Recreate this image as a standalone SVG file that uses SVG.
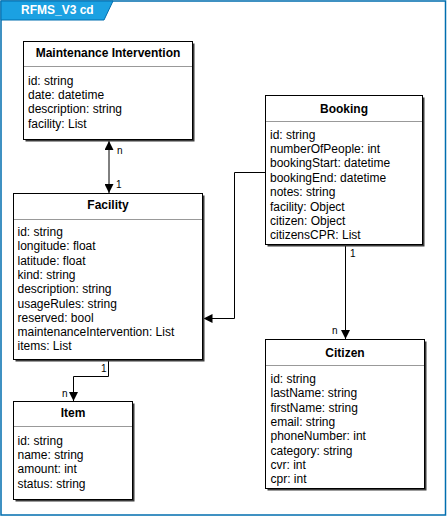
<svg xmlns="http://www.w3.org/2000/svg" width="447" height="517" viewBox="0 0 447 517">
<style>
.box{fill:#fff;stroke:#000;stroke-width:1}
.shadow{fill:#3a3a3a}
.sep{stroke:#999;stroke-width:1}
.title{font-family:"Liberation Sans",Arial,sans-serif;font-size:12px;font-weight:bold;fill:#000;text-anchor:middle}
.attr{font-family:"Liberation Sans",Arial,sans-serif;font-size:12px;fill:#000}
.lbl{font-family:"Liberation Sans",Arial,sans-serif;font-size:10px;fill:#000}
.conn{fill:none;stroke:#000;stroke-width:1}
</style>
<defs>
<marker id="arr" markerUnits="userSpaceOnUse" markerWidth="9" markerHeight="9" refX="8" refY="4" orient="auto-start-reverse" viewBox="0 0 8 8">
<path d="M0,0 L8,4 L0,8 z" fill="#000"/>
</marker>
</defs>
<rect width="447" height="517" fill="#fff"/>
<g id="frame">
<rect x="1" y="1" width="444.5" height="514" fill="none" stroke="#006EAF" stroke-width="1.5"/>
<path d="M1,1 H113 L104,20 H1 Z" fill="#1BA1E2" stroke="#006EAF" stroke-width="1"/>
<text x="21" y="13.6" font-family="'Liberation Sans',Arial,sans-serif" font-size="12" font-weight="bold" fill="#fff">RFMS_V3 cd</text>
</g>
<g id="connectors">
<path class="conn" d="M109,141 V193" marker-start="url(#arr)" marker-end="url(#arr)"/>
<path class="conn" d="M265.5,172.5 H234.5 V318.5 H203.5" marker-end="url(#arr)"/>
<path class="conn" d="M108.5,360 V376.5 H73.5 V401" marker-end="url(#arr)"/>
<path class="conn" d="M345.5,245 V339" marker-end="url(#arr)"/>
<text class="lbl" x="117" y="154">n</text>
<text class="lbl" x="116" y="188">1</text>
<text class="lbl" x="101" y="372">1</text>
<text class="lbl" x="62" y="397">n</text>
<text class="lbl" x="350" y="257">1</text>
<text class="lbl" x="332" y="334">n</text>
</g>
<g id="maintenance-intervention">
<rect class="shadow" x="25.5" y="43.5" width="169" height="98"/>
<rect class="box" x="23.5" y="41.5" width="169" height="98"/>
<line class="sep" x1="24" y1="66.5" x2="192" y2="66.5"/>
<text class="title" x="108" y="57">Maintenance Intervention</text>
<text class="attr" x="28" y="84.5">id: string</text>
<text class="attr" x="28" y="98.9">date: datetime</text>
<text class="attr" x="28" y="113.3">description: string</text>
<text class="attr" x="28" y="127.7">facility: List</text>
</g>
<g id="booking">
<rect class="shadow" x="267.5" y="97.5" width="157" height="149"/>
<rect class="box" x="265.5" y="95.5" width="157" height="149"/>
<line class="sep" x1="266" y1="121.5" x2="422" y2="121.5"/>
<text class="title" x="344" y="113">Booking</text>
<text class="attr" x="270" y="138.6">id: string</text>
<text class="attr" x="270" y="153">numberOfPeople: int</text>
<text class="attr" x="270" y="167.4">bookingStart: datetime</text>
<text class="attr" x="270" y="181.8">bookingEnd: datetime</text>
<text class="attr" x="270" y="196.2">notes: string</text>
<text class="attr" x="270" y="210.6">facility: Object</text>
<text class="attr" x="270" y="225">citizen: Object</text>
<text class="attr" x="270" y="239.4">citizensCPR: List</text>
</g>
<g id="facility">
<rect class="shadow" x="15.5" y="195.5" width="189" height="166"/>
<rect class="box" x="13.5" y="193.5" width="189" height="166"/>
<line class="sep" x1="14" y1="219.5" x2="202" y2="219.5"/>
<text class="title" x="108" y="209.3">Facility</text>
<text class="attr" x="17.5" y="236">id: string</text>
<text class="attr" x="17.5" y="250.3">longitude: float</text>
<text class="attr" x="17.5" y="264.6">latitude: float</text>
<text class="attr" x="17.5" y="278.9">kind: string</text>
<text class="attr" x="17.5" y="293.2">description: string</text>
<text class="attr" x="17.5" y="307.5">usageRules: string</text>
<text class="attr" x="17.5" y="321.8">reserved: bool</text>
<text class="attr" x="17.5" y="336.1">maintenanceIntervention: List</text>
<text class="attr" x="17.5" y="350.4">items: List</text>
</g>
<g id="item">
<rect class="shadow" x="15.5" y="403.5" width="119" height="98"/>
<rect class="box" x="13.5" y="401.5" width="119" height="98"/>
<line class="sep" x1="14" y1="426.5" x2="132" y2="426.5"/>
<text class="title" x="73" y="417">Item</text>
<text class="attr" x="17.5" y="444.6">id: string</text>
<text class="attr" x="17.5" y="458.9">name: string</text>
<text class="attr" x="17.5" y="473.2">amount: int</text>
<text class="attr" x="17.5" y="487.5">status: string</text>
</g>
<g id="citizen">
<rect class="shadow" x="267.5" y="341.5" width="159" height="149"/>
<rect class="box" x="265.5" y="339.5" width="159" height="149"/>
<line class="sep" x1="266" y1="365.5" x2="424" y2="365.5"/>
<text class="title" x="345" y="357">Citizen</text>
<text class="attr" x="270.5" y="383">id: string</text>
<text class="attr" x="270.5" y="397.3">lastName: string</text>
<text class="attr" x="270.5" y="411.6">firstName: string</text>
<text class="attr" x="270.5" y="425.9">email: string</text>
<text class="attr" x="270.5" y="440.2">phoneNumber: int</text>
<text class="attr" x="270.5" y="454.5">category: string</text>
<text class="attr" x="270.5" y="468.8">cvr: int</text>
<text class="attr" x="270.5" y="483.1">cpr: int</text>
</g>
</svg>
